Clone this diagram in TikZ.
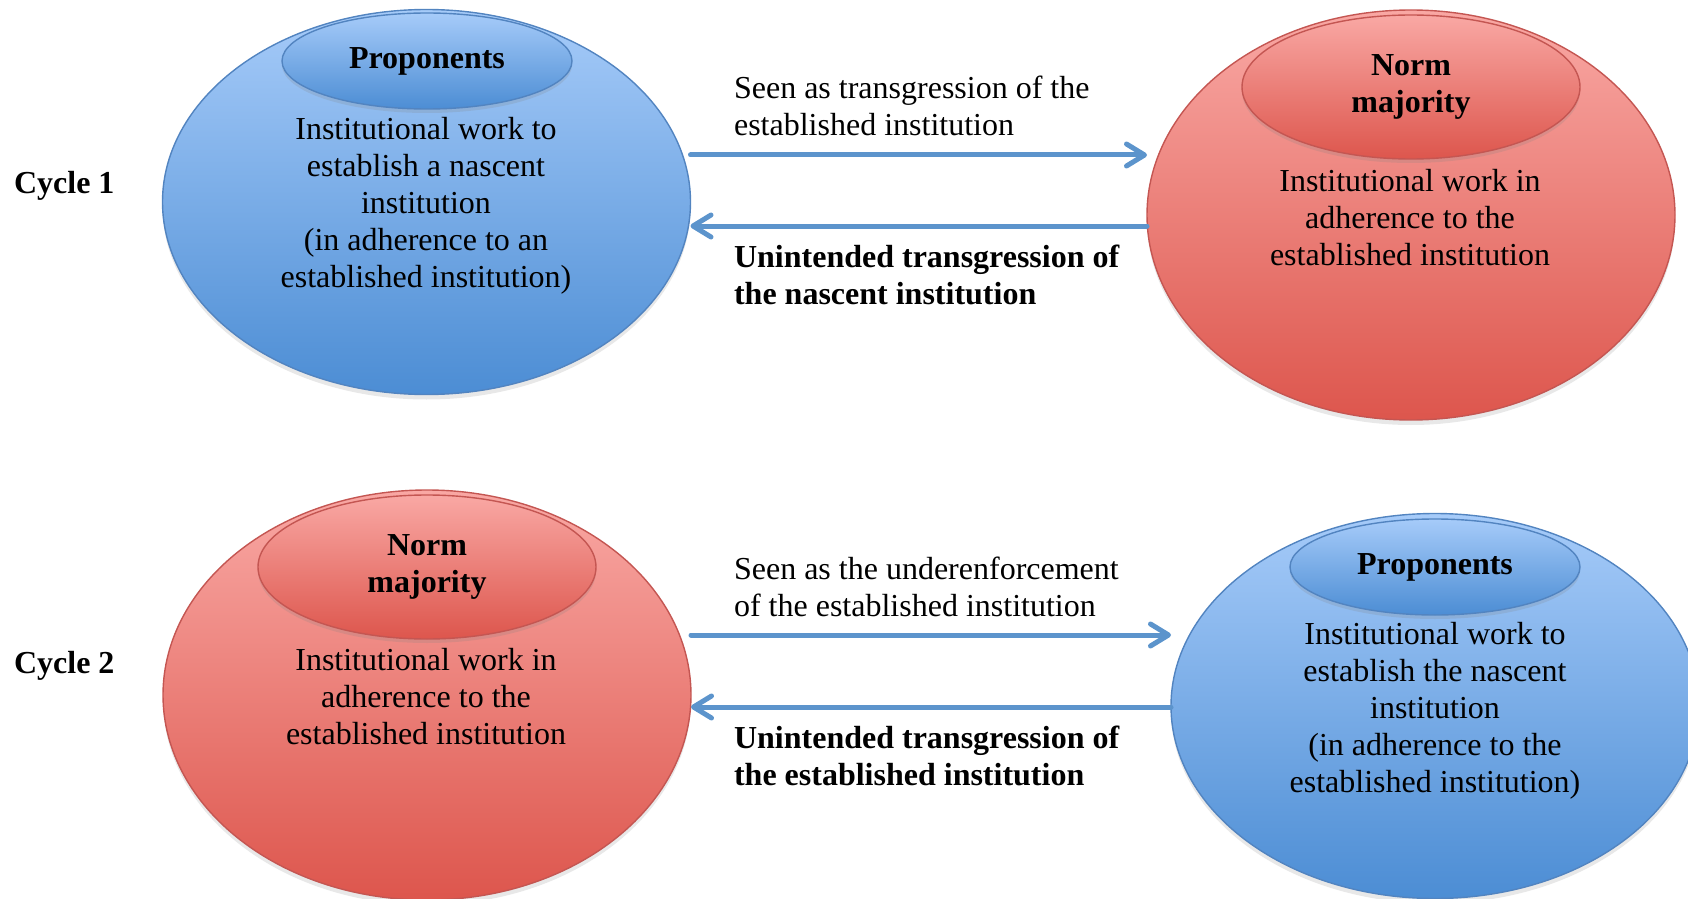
\documentclass[tikz,border=0pt]{standalone}
\usepackage{fontspec}
\setmainfont{Liberation Serif}
\usetikzlibrary{calc}
\usetikzlibrary{shapes.geometric}
\usetikzlibrary{arrows.meta}
\usetikzlibrary{shadows}

\definecolor{bluetop}{RGB}{166,203,249}
\definecolor{bluebot}{RGB}{76,141,212}
\definecolor{blueline}{RGB}{82,132,192}
\definecolor{redtop}{RGB}{249,168,164}
\definecolor{redbot}{RGB}{221,86,77}
\definecolor{redline}{RGB}{196,86,82}
\definecolor{arrblue}{RGB}{92,148,204}

\begin{document}
\begin{tikzpicture}[x=0.5pt, y=-0.5pt,
      font=\fontsize{16}{18.5}\selectfont,
      group/.style={ellipse, draw, line width=0.7pt, inner sep=0pt, outer sep=0pt},
      blue group/.style={group, draw=blueline, top color=bluetop, bottom color=bluebot},
      red group/.style={group, draw=redline, top color=redtop, bottom color=redbot},
      outer/.style={minimum width=264pt,
        drop shadow={shadow xshift=0pt, shadow yshift=-2.5pt, opacity=0.18}},
      head/.style={font=\fontsize{16}{18.5}\selectfont\bfseries,
        drop shadow={shadow xshift=0pt, shadow yshift=-2pt, opacity=0.2}},
      body/.style={align=center},
      lbl/.style={align=left, anchor=west},
      arr/.style={-{Straight Barb[length=9pt, width=11pt, round]}, line width=2.5pt,
        arrblue, line cap=round}]
    \useasboundingbox (0,0) rectangle (1688,899);
    \clip (0,0) rectangle (1688,899);
    % cycle 1
    \node[outer, blue group, minimum height=192.5pt] (prop1) at (426.5,202) {};
    \node[outer, red group, minimum height=205pt] (norm1) at (1411,215) {};
    \node[head, blue group, minimum width=145pt, minimum height=48pt] (prop1 head) at (427,61) {Proponents};
    \node[head, red group, minimum width=169pt, minimum height=72pt, align=center] (norm1 head) at (1411,87) {Norm\\majority};
    \node[body] (prop1 text) at (426,206) {Institutional work to\\establish a nascent\\institution\\(in adherence to an\\established institution)};
    \node[body] (norm1 text) at (1410,218) {Institutional work in\\adherence to the\\established institution};
    \node[font=\fontsize{16}{18.5}\selectfont\bfseries, anchor=west] (cycle1) at (7,186) {Cycle 1};
    \draw[arr] ($(prop1.east) + (0,-47)$) -- ($(norm1.west) + (0,-60)$);
    \draw[arr] ($(norm1.west) + (0,11)$) -- ($(prop1.east) + (0,24)$);
    \node[lbl] (seen1) at (727,106) {Seen as transgression of the\\established institution};
    \node[lbl, font=\fontsize{16}{18.5}\selectfont\bfseries] (unint1) at (727,275) {Unintended transgression of\\the nascent institution};
    % cycle 2
    \node[outer, red group, minimum height=205pt] (norm2) at (427,695) {};
    \node[outer, blue group, minimum height=192.5pt] (prop2) at (1435,706) {};
    \node[head, red group, minimum width=169pt, minimum height=72pt, align=center] (norm2 head) at (427,567) {Norm\\majority};
    \node[head, blue group, minimum width=145pt, minimum height=48pt] (prop2 head) at (1435,567) {Proponents};
    \node[body] (norm2 text) at (426,697) {Institutional work in\\adherence to the\\established institution};
    \node[body] (prop2 text) at (1435,711) {Institutional work to\\establish the nascent\\institution\\(in adherence to the\\established institution)};
    \node[font=\fontsize{16}{18.5}\selectfont\bfseries, anchor=west] (cycle2) at (7,666) {Cycle 2};
    \draw[arr] ($(norm2.east) + (0,-60)$) -- ($(prop2.west) + (0,-71)$);
    \draw[arr] ($(prop2.west) + (0,1)$) -- ($(norm2.east) + (0,12)$);
    \node[lbl] (seen2) at (727,587) {Seen as the underenforcement\\of the established institution};
    \node[lbl, font=\fontsize{16}{18.5}\selectfont\bfseries] (unint2) at (727,756) {Unintended transgression of\\the established institution};
  \end{tikzpicture}
\end{document}
